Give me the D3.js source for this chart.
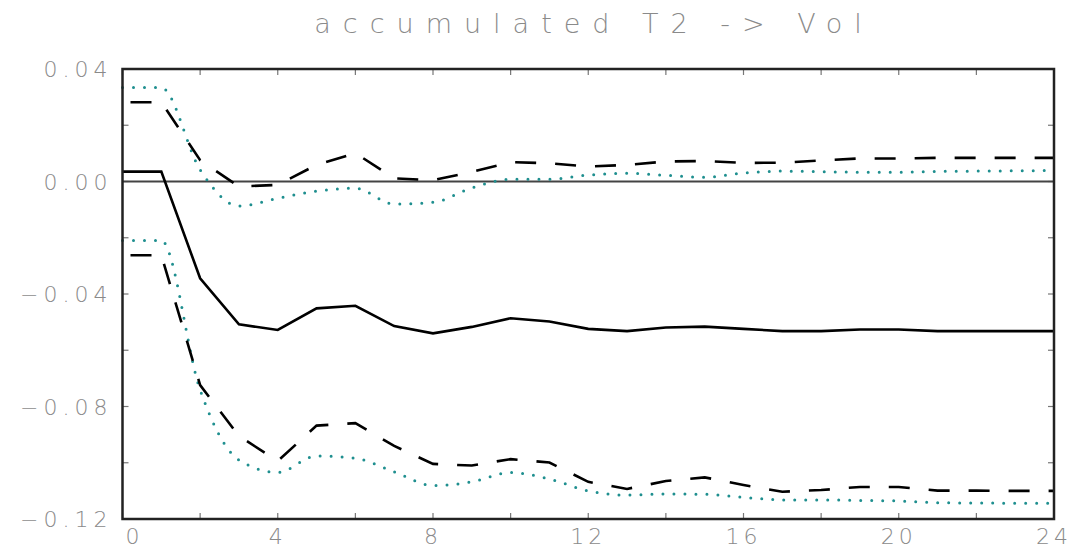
<!DOCTYPE html>
<html>
<head>
<meta charset="utf-8">
<script src="https://cdn.jsdelivr.net/npm/d3@7"></script>
<style>
  body { margin: 0; background: #fff; }
  svg { display: block; }
</style>
</head>
<body>
<svg id="chart"></svg>
<script>
let width = 1073, height = 548;
let margin = {top: 69, right: 19, bottom: 29, left: 122.5};

// response horizons and the four bands
let steps = [0,1,2,3,4,5,6,7,8,9,10,11,12,13,14,15,16,17,18,19,20,21,22,23,24];
let median = [0.0035,0.0035,-0.0344,-0.0508,-0.0528,-0.0451,-0.0442,-0.0514,-0.0540,-0.0517,-0.0486,-0.0498,-0.0524,-0.0532,-0.0519,-0.0516,-0.0524,-0.0532,-0.0532,-0.0526,-0.0526,-0.0532,-0.0532,-0.0532,-0.0532];
let upperDash = [0.0282,0.0282,0.0076,-0.0018,-0.0012,0.0059,0.0101,0.0011,0.0005,0.0034,0.0069,0.0065,0.0053,0.0059,0.0071,0.0073,0.0066,0.0067,0.0075,0.0082,0.0082,0.0084,0.0084,0.0084,0.0084];
let lowerDash = [-0.0262,-0.0262,-0.0724,-0.0905,-0.0994,-0.0868,-0.0859,-0.0940,-0.1004,-0.1010,-0.0987,-0.0999,-0.1068,-0.1093,-0.1065,-0.1052,-0.1079,-0.1103,-0.1097,-0.1086,-0.1086,-0.1099,-0.1099,-0.1100,-0.1100];
let upperDot = [0.0334,0.0334,0.0042,-0.0087,-0.0060,-0.0034,-0.0024,-0.0080,-0.0074,-0.0023,0.0008,0.0008,0.0023,0.0029,0.0022,0.0015,0.0030,0.0037,0.0035,0.0033,0.0033,0.0036,0.0037,0.0038,0.0039];
let lowerDot = [-0.0210,-0.0210,-0.0741,-0.0990,-0.1034,-0.0976,-0.0984,-0.1032,-0.1081,-0.1068,-0.1035,-0.1058,-0.1100,-0.1115,-0.1111,-0.1112,-0.1123,-0.1132,-0.1132,-0.1134,-0.1136,-0.1142,-0.1143,-0.1144,-0.1144];

let xLabels = [0,4,8,12,16,20,24];
let yLabels = [0.04,0.00,-0.04,-0.08,-0.12];
let xMinor = [0,2,4,6,8,10,12,14,16,18,20,22,24];
let yMinor = [0.04,0.02,0.00,-0.02,-0.04,-0.06,-0.08,-0.10,-0.12];
let titleText = "accumulated T2 -> Vol";

let svg = d3.select("#chart")
            .attr("width", width)
            .attr("height", height);

let x = d3.scaleLinear().domain([0, 24]).range([margin.left, width - margin.right]);
let y = d3.scaleLinear().domain([-0.12, 0.04]).range([height - margin.bottom, margin.top]);

let labelFont = "'DejaVu Sans', sans-serif";
let grey = "#8a8a8a";
let fmt = d3.format(".2f");

//title
svg.append("text")
    .attr("x", 588 + 6)
    .attr("y", 33)
    .attr("text-anchor", "middle")
    .style("font-family", labelFont)
    .style("font-weight", 200)
    .style("font-size", "27px")
    .style("letter-spacing", "12px")
    .style("fill", grey)
    .text(titleText);

// inward ticks on all four sides
let tick = 6;
let ticks = svg.append("g").style("stroke", "#777").style("stroke-width", 1.2);
xMinor.forEach(v => {
    ticks.append("line").attr("x1", x(v)).attr("x2", x(v))
        .attr("y1", y(-0.12)).attr("y2", y(-0.12) - tick);
    ticks.append("line").attr("x1", x(v)).attr("x2", x(v))
        .attr("y1", y(0.04)).attr("y2", y(0.04) + tick);
});
yMinor.forEach(v => {
    ticks.append("line").attr("x1", x(0)).attr("x2", x(0) + tick)
        .attr("y1", y(v)).attr("y2", y(v));
    ticks.append("line").attr("x1", x(24)).attr("x2", x(24) - tick)
        .attr("y1", y(v)).attr("y2", y(v));
});

//y labels
svg.append("g").selectAll("text")
    .data(yLabels)
    .join("text")
    .attr("x", x(0) - 15 + 5)
    .attr("y", d => y(d) + 8)
    .attr("text-anchor", "end")
    .style("font-family", labelFont)
    .style("font-weight", 200)
    .style("font-size", "22px")
    .style("letter-spacing", "5px")
    .style("fill", grey)
    .text(d => fmt(d));

//x labels
svg.append("g").selectAll("text")
    .data(xLabels)
    .join("text")
    .attr("x", d => d === 0 ? x(d) + 3 : x(d))
    .attr("y", height - 4)
    .attr("text-anchor", d => d === 0 ? "start" : "middle")
    .style("font-family", labelFont)
    .style("font-weight", 200)
    .style("font-size", "22px")
    .style("letter-spacing", "4px")
    .style("fill", grey)
    .text(d => d);

// zero line
svg.append("line")
    .attr("x1", x(0)).attr("x2", x(24))
    .attr("y1", y(0)).attr("y2", y(0))
    .style("stroke", "#444")
    .style("stroke-width", 2);

let lineLinear = d3.line().x((d, i) => x(steps[i])).y(d => y(d));
let lineSmooth = d3.line().x((d, i) => x(steps[i])).y(d => y(d)).curve(d3.curveMonotoneX);

let graph = svg.append("g").attr("class", "lines").style("fill", "none");

graph.append("path").attr("d", lineSmooth(upperDot))
    .style("stroke", "#1f8f8f").style("stroke-width", 3)
    .style("stroke-linecap", "round").style("stroke-dasharray", "0 11");
graph.append("path").attr("d", lineSmooth(lowerDot))
    .style("stroke", "#1f8f8f").style("stroke-width", 3)
    .style("stroke-linecap", "round").style("stroke-dasharray", "0 11");

graph.append("path").attr("d", lineLinear(upperDash))
    .style("stroke", "#000").style("stroke-width", 2.6)
    .style("stroke-dasharray", "21 19").style("stroke-dashoffset", -8);
graph.append("path").attr("d", lineLinear(lowerDash))
    .style("stroke", "#000").style("stroke-width", 2.6)
    .style("stroke-dasharray", "21 19").style("stroke-dashoffset", -8);

graph.append("path").attr("d", lineLinear(median))
    .style("stroke", "#000").style("stroke-width", 2.6);

// frame
svg.append("rect")
    .attr("x", x(0)).attr("y", y(0.04))
    .attr("width", x(24) - x(0)).attr("height", y(-0.12) - y(0.04))
    .style("fill", "none")
    .style("stroke", "#222")
    .style("stroke-width", 2.5);
</script>
</body>
</html>
